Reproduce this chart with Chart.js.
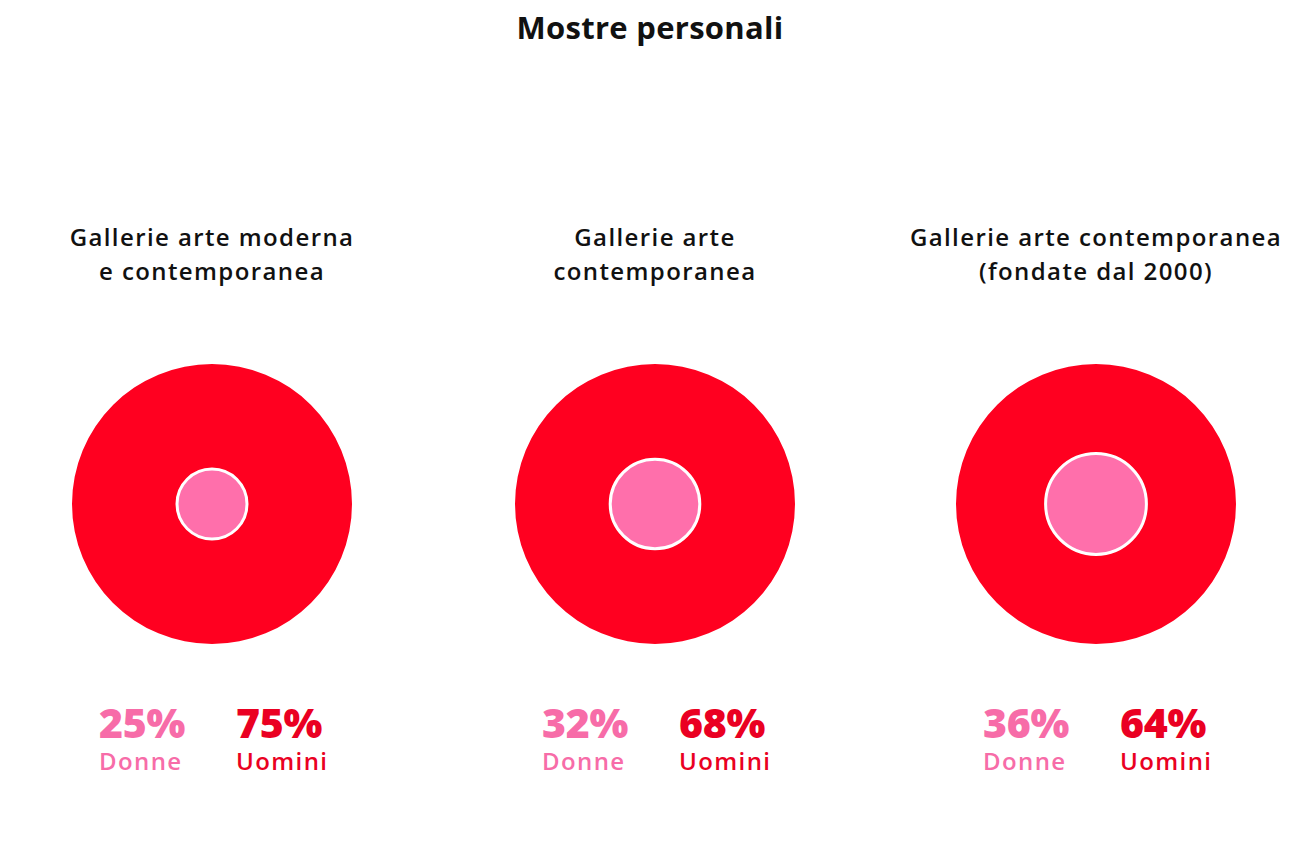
<!DOCTYPE html>
<html>
<head>
<meta charset="utf-8">
<script src="https://cdn.jsdelivr.net/npm/chart.js@4/dist/chart.umd.min.js"></script>
<style>
  html, body { margin: 0; padding: 0; background: #fff; }
  body { width: 1300px; height: 863px; position: relative; overflow: hidden; font-family: 'Open Sans', 'Lato', sans-serif; }
  #title { position: absolute; top: 6px; left: 0; width: 1300px; text-align: center; font-size: 31px; font-weight: 700; color: #111; letter-spacing: 0.3px; }
  .col { position: absolute; top: 0; width: 460px; height: 863px; }
  .sub { position: absolute; top: 220px; left: 0; width: 460px; text-align: center; font-size: 24px; font-weight: 600; line-height: 34px; color: #111; letter-spacing: 1.4px; }
  .wrap { position: absolute; top: 364px; width: 280px; height: 280px; }
  .stats { position: absolute; top: 697px; }
  .stat { position: absolute; top: 0; white-space: nowrap; }
  .pct { font-size: 41px; font-weight: 800; line-height: 50px; letter-spacing: -0.3px; }
  .lab { font-size: 24px; font-weight: 600; line-height: 28px; letter-spacing: 1.4px; }
</style>
</head>
<body>
<div id="title"></div>
<div id="cols"></div>
<script>
const chartTitle = 'Mostre personali'
const groups = [
  ['Gallerie arte moderna', 'e contemporanea'],
  ['Gallerie arte', 'contemporanea'],
  ['Gallerie arte contemporanea', '(fondate dal 2000)']
]
const donne = [25, 32, 36]
const uomini = [75, 68, 64]
const seriesNames = ['Donne', 'Uomini']
const centers = [212, 655, 1096]

const pink = '#FF6FAB'
const red = '#FF0020'
const pinkText = '#F76CA8'
const redText = '#EA0022'

// white outline around the inner (pink) circle, using the arc element geometry
const ringPlugin = {
  id: 'ring',
  afterDatasetsDraw: function (chart) {
    const arc = chart.getDatasetMeta(0).data[0]
    if (!arc) return
    const ctx = chart.ctx
    ctx.save()
    ctx.beginPath()
    ctx.arc(arc.x, arc.y, arc.outerRadius, 0, Math.PI * 2)
    ctx.lineWidth = 3
    ctx.strokeStyle = '#ffffff'
    ctx.stroke()
    ctx.restore()
  }
}

document.getElementById('title').textContent = chartTitle
const cols = document.getElementById('cols')

groups.forEach(function (lines, i) {
  const col = document.createElement('div')
  col.className = 'col'
  col.style.left = (centers[i] - 230) + 'px'

  const sub = document.createElement('div')
  sub.className = 'sub'
  sub.innerHTML = lines.join('<br>')
  col.appendChild(sub)

  const wrap = document.createElement('div')
  wrap.className = 'wrap'
  wrap.style.left = (230 - 140) + 'px'
  const canvas = document.createElement('canvas')
  wrap.appendChild(canvas)
  col.appendChild(wrap)

  const stats = document.createElement('div')
  stats.className = 'stats'
  stats.style.left = '0px'
  const vals = [donne[i], uomini[i]]
  const colors = [pinkText, redText]
  const offs = [230 - 113, 230 + 24]
  vals.forEach(function (v, k) {
    const s = document.createElement('div')
    s.className = 'stat'
    s.style.left = offs[k] + 'px'
    s.style.color = colors[k]
    s.innerHTML = '<div class="pct">' + v + '%</div><div class="lab">' + seriesNames[k] + '</div>'
    stats.appendChild(s)
  })
  col.appendChild(stats)
  cols.appendChild(col)

  new Chart(canvas, {
    type: 'polarArea',
    data: {
      labels: [seriesNames[0]],
      datasets: [
        {
          label: seriesNames[0],
          data: [donne[i]],
          backgroundColor: pink,
          borderWidth: 0,
          order: 0
        },
        {
          label: seriesNames[1],
          data: [100],
          backgroundColor: red,
          borderWidth: 0,
          order: 1
        }
      ]
    },
    options: {
      responsive: true,
      maintainAspectRatio: false,
      animation: false,
      layout: { padding: 0 },
      plugins: {
        legend: { display: false },
        tooltip: { enabled: false }
      },
      scales: {
        r: {
          min: 0,
          max: 100,
          ticks: { display: false },
          grid: { display: false },
          angleLines: { display: false },
          pointLabels: { display: false }
        }
      }
    },
    plugins: [ringPlugin]
  })
})
</script>
</body>
</html>
